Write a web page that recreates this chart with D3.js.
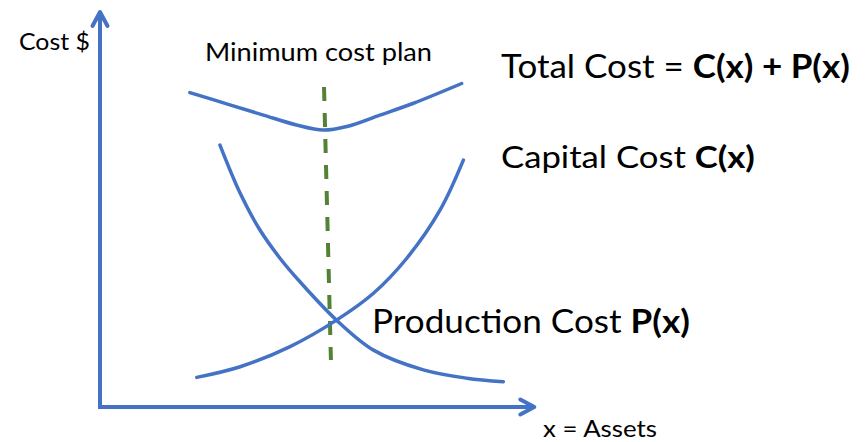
<!DOCTYPE html>
<html>
<head>
<meta charset="utf-8">
<script src="https://cdn.jsdelivr.net/npm/d3@7"></script>
<style>
  body { margin: 0; background: #fff; }
  svg { display: block; }
  text { font-family: Lato, "Open Sans", sans-serif; fill: #000; }
</style>
</head>
<body>
<svg id="chart"></svg>
<script>
// curve points, in chart units (0..100 on each axis)
const totalCostX = [20.9, 30.2, 38.0, 45.7, 51.9, 57.4, 65.1, 72.9, 84.1];
const totalCostY = [79.6, 76.5, 73.9, 71.4, 70.1, 71.0, 73.9, 76.9, 81.9];

const capitalCostX = [27.9, 32.6, 37.2, 41.9, 46.5, 55.0, 63.6, 75.2, 85.3, 93.8];
const capitalCostY = [66.3, 54.1, 44.8, 37.6, 31.7, 22.0, 14.4, 9.4, 7.3, 6.4];

const productionCostX = [22.5, 32.6, 44.2, 55.0, 63.6, 71.3, 79.1, 84.5];
const productionCostY = [7.5, 10.2, 15.3, 22.0, 28.8, 37.6, 49.9, 62.5];

const minPlanX = [52.1, 53.7];
const minPlanY = [81.0, 11.9];

const axisExtentX = 101;   // arrow tip of x axis
const axisExtentY = 100;   // arrow tip of y axis

const width = 866, height = 442;
const blue = "#4472c4", green = "#548235";

const svg = d3.select("#chart").attr("width", width).attr("height", height);

const x = d3.scaleLinear().domain([0, 100]).range([100, 530]);
const y = d3.scaleLinear().domain([0, 100]).range([407, 12]);

const zip = (xs, ys) => xs.map((v, i) => [v, ys[i]]);
const line = d3.line().x(d => x(d[0])).y(d => y(d[1])).curve(d3.curveCatmullRom.alpha(0.5));

// axes with open arrow heads
svg.append("path")
  .attr("d", d3.line()([[x(0), y(axisExtentY)], [x(0), y(0)], [x(axisExtentX), y(0)]]))
  .attr("fill", "none").attr("stroke", blue).attr("stroke-width", 4)
  .attr("stroke-linejoin", "miter");

const tipY = [x(0), y(axisExtentY)];
svg.append("path")
  .attr("d", d3.line()([[tipY[0] - 7.5, tipY[1] + 14], tipY, [tipY[0] + 7.5, tipY[1] + 14]]))
  .attr("fill", "none").attr("stroke", blue).attr("stroke-width", 4)
  .attr("stroke-linecap", "round").attr("stroke-linejoin", "round");

const tipX = [x(axisExtentX), y(0)];
svg.append("path")
  .attr("d", d3.line()([[tipX[0] - 14, tipX[1] - 7.5], tipX, [tipX[0] - 14, tipX[1] + 7.5]]))
  .attr("fill", "none").attr("stroke", blue).attr("stroke-width", 4)
  .attr("stroke-linecap", "round").attr("stroke-linejoin", "round");

// min cost plan marker
svg.append("path")
  .attr("d", d3.line().x(d => x(d[0])).y(d => y(d[1]))(zip(minPlanX, minPlanY)))
  .attr("stroke", green).attr("stroke-width", 4)
  .attr("stroke-dasharray", "14 12");

// cost curves
[[totalCostX, totalCostY], [capitalCostX, capitalCostY], [productionCostX, productionCostY]]
  .forEach(([xs, ys]) => {
    svg.append("path")
      .attr("d", line(zip(xs, ys)))
      .attr("fill", "none").attr("stroke", blue)
      .attr("stroke-width", 3.5).attr("stroke-linecap", "round");
  });

// labels: parts (regular / bold), left, right, baseline, font size
function label(parts, x0, x1, base, size) {
  const t = svg.append("text").attr("x", x0).attr("y", base).attr("font-size", size);
  parts.forEach(p => {
    t.append("tspan").attr("font-weight", p.bold ? 700 : 400).text(p.text);
  });
  const w = t.node().getComputedTextLength();
  const s = (x1 - x0) / w;
  t.attr("transform", `translate(${x0},0) scale(${s},1) translate(${-x0},0)`);
}

label([{text: "Cost $"}], 19, 90, 50.5, 24);
label([{text: "Minimum cost plan"}], 205, 432, 61.5, 25);
label([{text: "Total Cost = "}, {text: "C(x) + P(x)", bold: true}], 501, 850, 78.5, 32);
label([{text: "Capital Cost "}, {text: "C(x)", bold: true}], 501, 755, 168.5, 31);
label([{text: "Production Cost "}, {text: "P(x)", bold: true}], 372, 690, 333.5, 33);
label([{text: "x = Assets"}], 543, 657, 437, 24);
</script>
</body>
</html>
